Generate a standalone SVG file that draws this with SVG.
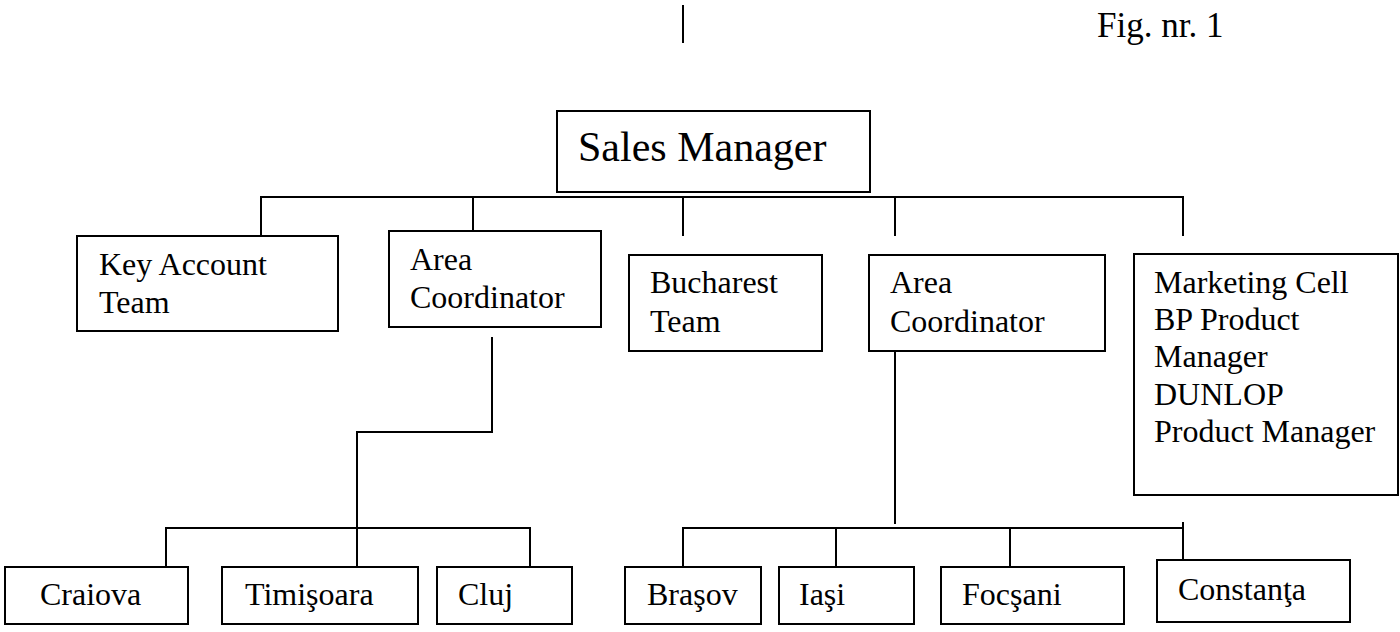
<svg xmlns="http://www.w3.org/2000/svg" width="1400" height="632" viewBox="0 0 1400 632">
  <style>
    .box { fill: #ffffff; stroke: #000000; stroke-width: 2; }
    .wire { fill: none; stroke: #000000; stroke-width: 2; }
    text { font-family: "Liberation Serif", "Times New Roman", serif; font-size: 32px; fill: #000000; }
    .big { font-size: 42px; }
    .fig { font-size: 35px; }
  </style>
  <rect width="1400" height="632" fill="#ffffff"/>

  <!-- page marks -->
  <line x1="683" y1="5" x2="683" y2="43" class="wire"/>
  <text class="fig" x="1097" y="37">Fig. nr. 1</text>

  <!-- connectors -->
  <g id="connectors">
    <!-- top level bus -->
    <polyline class="wire" points="261,236 261,197 1183,197 1183,236"/>
    <line class="wire" x1="473" y1="197" x2="473" y2="231"/>
    <line class="wire" x1="683" y1="197" x2="683" y2="236"/>
    <line class="wire" x1="895" y1="197" x2="895" y2="236"/>
    <!-- left area coordinator branch -->
    <polyline class="wire" points="492,337 492,432 357,432 357,566"/>
    <polyline class="wire" points="166,566 166,528 530,528 530,566"/>
    <!-- right area coordinator branch -->
    <line class="wire" x1="895" y1="351" x2="895" y2="524"/>
    <polyline class="wire" points="683,566 683,528 1183,528"/>
    <line class="wire" x1="1183" y1="522" x2="1183" y2="560"/>
    <line class="wire" x1="836" y1="528" x2="836" y2="566"/>
    <line class="wire" x1="1010" y1="528" x2="1010" y2="566"/>
  </g>

  <g id="sales-manager">
    <rect class="box" x="557" y="111" width="313" height="81"/>
    <text class="big" x="578" y="161">Sales Manager</text>
  </g>

  <g id="key-account-team">
    <rect class="box" x="77" y="236" width="261" height="95"/>
    <text x="99" y="275">Key Account</text>
    <text x="99" y="313">Team</text>
  </g>

  <g id="area-coordinator-1">
    <rect class="box" x="389" y="231" width="212" height="96"/>
    <text x="410" y="270">Area</text>
    <text x="410" y="308">Coordinator</text>
  </g>

  <g id="bucharest-team">
    <rect class="box" x="629" y="255" width="193" height="96"/>
    <text x="650" y="293">Bucharest</text>
    <text x="650" y="332">Team</text>
  </g>

  <g id="area-coordinator-2">
    <rect class="box" x="869" y="255" width="236" height="96"/>
    <text x="890" y="293">Area</text>
    <text x="890" y="332">Coordinator</text>
  </g>

  <g id="marketing-cell">
    <rect class="box" x="1134" y="254" width="264" height="241"/>
    <text x="1154" y="293">Marketing Cell</text>
    <text x="1154" y="330">BP Product</text>
    <text x="1154" y="367">Manager</text>
    <text x="1154" y="405">DUNLOP</text>
    <text x="1154" y="442">Product Manager</text>
  </g>

  <g id="craiova">
    <rect class="box" x="5" y="567" width="183" height="57"/>
    <text x="40" y="605">Craiova</text>
  </g>

  <g id="timisoara">
    <rect class="box" x="222" y="567" width="196" height="57"/>
    <text x="245" y="605">Timişoara</text>
  </g>

  <g id="cluj">
    <rect class="box" x="437" y="567" width="135" height="57"/>
    <text x="458" y="605">Cluj</text>
  </g>

  <g id="brasov">
    <rect class="box" x="625" y="567" width="136" height="57"/>
    <text x="647" y="605">Braşov</text>
  </g>

  <g id="iasi">
    <rect class="box" x="779" y="567" width="135" height="57"/>
    <text x="799" y="605">Iaşi</text>
  </g>

  <g id="focsani">
    <rect class="box" x="941" y="567" width="183" height="57"/>
    <text x="962" y="605">Focşani</text>
  </g>

  <g id="constanta">
    <rect class="box" x="1157" y="560" width="193" height="62"/>
    <text x="1178" y="600">Constanţa</text>
  </g>
</svg>
